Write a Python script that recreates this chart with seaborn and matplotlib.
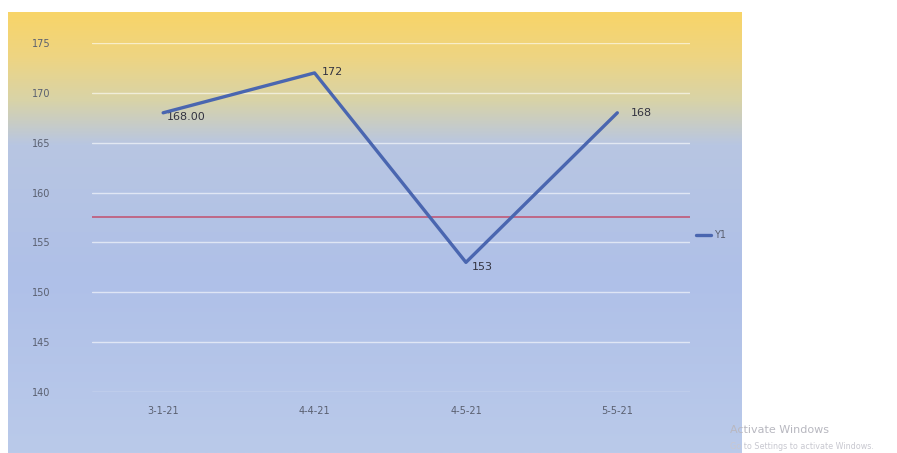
import numpy as np
import pandas as pd
import matplotlib
matplotlib.use("Agg")
import matplotlib.pyplot as plt
import seaborn as sns
from matplotlib.colors import LinearSegmentedColormap

categories = ["3-1-21", "4-4-21", "4-5-21", "5-5-21"]
values = [168.0, 172.0, 153.0, 168.0]
value_labels = ["168.00", "172", "153", "168"]
target = 157.6
yticks = [140, 145, 150, 155, 160, 165, 170, 175]
series_name = "Y1"

sns.set_theme(style="white")
plt.rcParams['font.family'] = ['DejaVu Sans']

W, H = 897, 453
fig = plt.figure(figsize=(W / 100, H / 100), dpi=100)
fig.patch.set_facecolor("white")

# gradient background panel
bg = fig.add_axes([8 / W, 0, 733 / W, 441 / H])
bg.set_axis_off()
cmap = LinearSegmentedColormap.from_list(
    "bg", [(0.0, "#F8D468"), (0.1, "#EED582"), (0.2, "#D8D3A8"), (0.3, "#B8C6E2"),
           (0.6, "#AFC0E8"), (1.0, "#BACAEA")])
grad = np.linspace(0, 1, 256).reshape(-1, 1)
bg.imshow(grad, aspect="auto", cmap=cmap, extent=[0, 1, 0, 1], origin="upper")
bg.set_xlim(0, 1)
bg.set_ylim(0, 1)

ax = fig.add_axes([92 / W, (H - 392) / H, 598 / W, 349 / H])
ax.set_facecolor("none")
df = pd.DataFrame({"x": np.arange(len(categories)), "y": values})
sns.lineplot(data=df, x="x", y="y", ax=ax, color="#4A66B0", linewidth=2.4,
             label=series_name, zorder=4)
ax.axhline(target, color="#C06080", linewidth=1.3, zorder=3)

ax.set_xlim(-0.47, 3.48)
ax.set_ylim(140, 175)
ax.set_yticks(yticks)
ax.set_yticklabels([str(t) for t in yticks])
ax.set_xticks(df["x"])
ax.set_xticklabels(categories)
ax.tick_params(axis="both", length=0, labelsize=7, colors="#5A6070")
ax.tick_params(axis="y", pad=30)
ax.tick_params(axis="x", pad=10)
ax.grid(axis="y", color="white", linewidth=1.0, alpha=0.6)
ax.set_axisbelow(True)
for s in ax.spines.values():
    s.set_visible(False)
ax.set_xlabel("")
ax.set_ylabel("")

offsets = [(3, -3, "left", "center"), (5, 1, "left", "center"),
           (4, -3, "left", "center"), (10, 0, "left", "center")]
for i, (v, lab) in enumerate(zip(values, value_labels)):
    dx, dy, ha, va = offsets[i]
    ax.annotate(lab, (i, v), xytext=(dx, dy), textcoords="offset points",
                ha=ha, va=va, fontsize=8, color="#333340")

leg = ax.legend(loc="center left", bbox_to_anchor=(0.995, 0.45), frameon=False,
                fontsize=7, handlelength=1.6, handletextpad=0.3, labelcolor="#5A6070")

fig.text(730 / W, 1 - 433 / H, "Activate Windows", fontsize=8, color="#B8B8C0")
fig.text(730 / W, 1 - 449 / H, "Go to Settings to activate Windows.", fontsize=5.8,
         color="#C8C8D0")

fig.savefig("out.png", dpi=100, facecolor="white")
